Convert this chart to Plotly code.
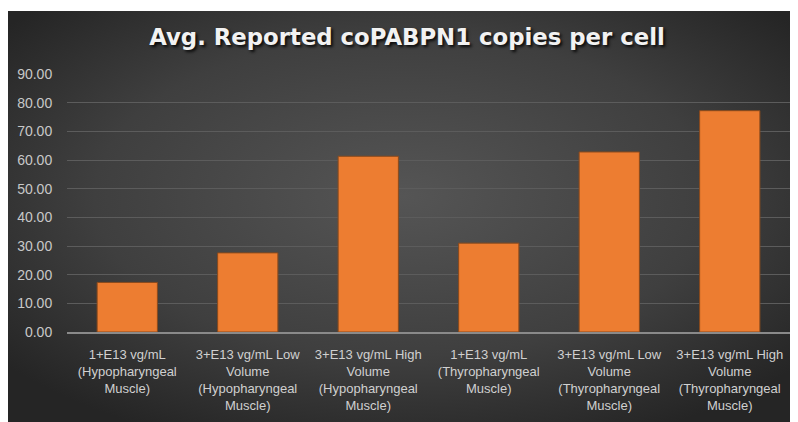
import base64
import plotly.graph_objects as go

categories = [
    "1+E13 vg/mL<br>(Hypopharyngeal<br>Muscle)",
    "3+E13 vg/mL Low<br>Volume<br>(Hypopharyngeal<br>Muscle)",
    "3+E13 vg/mL High<br>Volume<br>(Hypopharyngeal<br>Muscle)",
    "1+E13 vg/mL<br>(Thyropharyngeal<br>Muscle)",
    "3+E13 vg/mL Low<br>Volume<br>(Thyropharyngeal<br>Muscle)",
    "3+E13 vg/mL High<br>Volume<br>(Thyropharyngeal<br>Muscle)",
]
values = [17.3, 27.6, 61.3, 31.0, 62.8, 77.2]
tick_vals = [0, 10, 20, 30, 40, 50, 60, 70, 80, 90]
tick_text = ["%.2f" % v for v in tick_vals]
title_text = "Avg. Reported coPABPN1 copies per cell"

# page body has an 8px margin; figure sits at (8, 8)
W, H = 790, 414
L, R, T, B = 59, 8, 66, 90
pw, ph = W - L - R, H - T - B

svg = (
    '<svg xmlns="http://www.w3.org/2000/svg" width="790" height="411" preserveAspectRatio="none">'
    '<defs><radialGradient id="g" cx="50%" cy="45%" r="65%">'
    '<stop offset="0%" stop-color="#555555"/>'
    '<stop offset="60%" stop-color="#3f3f3f"/>'
    '<stop offset="100%" stop-color="#252525"/>'
    '</radialGradient></defs>'
    '<rect width="790" height="411" fill="url(#g)"/></svg>'
)
src = "data:image/svg+xml;base64," + base64.b64encode(svg.encode()).decode()

x0 = (0 - L) / pw
x1 = (W - L) / pw
ytop = (H - B - 3) / ph
ybot = (H - B - H) / ph

fig = go.Figure(
    go.Bar(
        x=categories,
        y=values,
        marker=dict(color="#ED7D31", line=dict(color="#8a4a1c", width=1)),
        width=0.5,
    )
)
fig.update_layout(
    width=W,
    height=H,
    margin=dict(l=L, r=R, t=T, b=B),
    paper_bgcolor="white",
    plot_bgcolor="rgba(0,0,0,0)",
    showlegend=False,
    images=[
        dict(
            source=src, xref="paper", yref="paper", x=x0, y=ytop,
            sizex=x1 - x0, sizey=ytop - ybot, sizing="stretch",
            xanchor="left", yanchor="top", layer="below",
        )
    ],
    title=dict(
        text="<b>" + title_text + "</b>",
        x=399 / W, xanchor="center",
        y=1 - 29 / H, yanchor="middle",
        font=dict(family="DejaVu Sans", size=22.8, color="#f2f2f2",
                  shadow="2px 2px 3px rgba(0,0,0,0.85)"),
    ),
    font=dict(family="Liberation Sans, Arial", color="#d0d0d0"),
)
fig.update_yaxes(
    range=[0, 90], tickvals=tick_vals, ticktext=tick_text,
    showgrid=True, gridcolor="#5c5c5c", gridwidth=1,
    zeroline=False, showline=False,
    tickfont=dict(family="Liberation Sans, Arial", size=14, color="#c8c8c8"),
    ticks="outside", ticklen=11, tickcolor="rgba(0,0,0,0)",
)
fig.update_xaxes(
    showline=True, linecolor="#8a8a8a", linewidth=1.5,
    tickfont=dict(family="Liberation Sans, Arial", size=13, color="#d0d0d0"),
    tickangle=0, ticks="outside", ticklen=10, tickcolor="rgba(0,0,0,0)",
)
fig.write_html("out.html")
